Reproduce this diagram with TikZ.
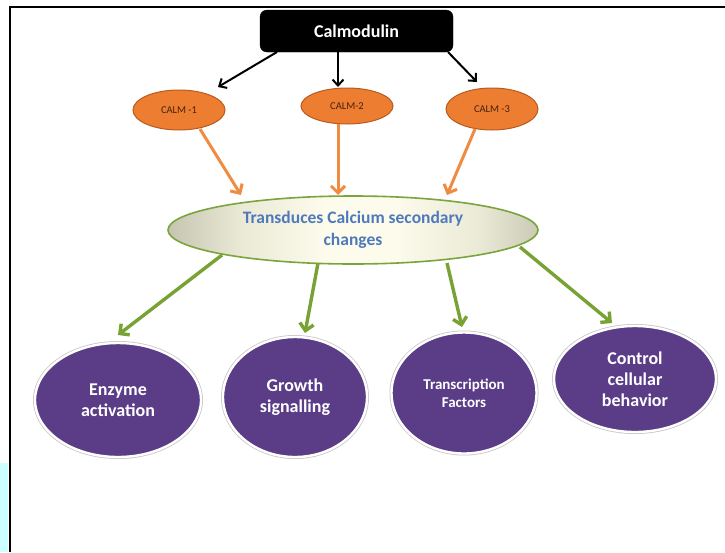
\documentclass[tikz,border=0pt]{standalone}
\usepackage{fontspec}
\setmainfont{Carlito}
\usetikzlibrary{arrows.meta,shapes.geometric,calc}

\definecolor{calmfill}{RGB}{237,125,49}
\definecolor{calmline}{RGB}{185,90,30}
\definecolor{calmtext}{RGB}{70,35,12}
\definecolor{orangearrow}{RGB}{240,140,65}
\definecolor{greenarrow}{RGB}{120,162,52}
\definecolor{lensedge}{RGB}{122,165,60}
\definecolor{lensdark}{RGB}{66,66,56}
\definecolor{lensgrey}{RGB}{112,112,98}
\definecolor{lensmid}{RGB}{182,182,162}
\definecolor{lenspale}{RGB}{235,234,214}
\definecolor{lenslight}{RGB}{252,251,236}
\definecolor{lenstext}{RGB}{78,122,188}
\definecolor{disc}{RGB}{91,61,135}
\definecolor{sidebar}{RGB}{204,255,255}

% grey edges fading to a cream centre across the lens
\pgfdeclarehorizontalshading{lensbar}{100bp}{color(0bp)=(lensdark); color(9bp)=(lensgrey); color(21bp)=(lensmid); color(35bp)=(lenspale); color(46bp)=(lenslight); color(56bp)=(lenslight); color(67bp)=(lenspale); color(80bp)=(lensmid); color(91bp)=(lensgrey); color(100bp)=(lensdark)}

\tikzset{
  calbox/.style={rectangle, rounded corners=7pt, fill=black, draw=black,
    text=white, font=\bfseries\fontsize{18}{21}\selectfont,
    minimum width=193pt, minimum height=42pt, inner sep=0pt},
  calm/.style={ellipse, fill=calmfill, draw=calmline, line width=1pt,
    text=calmtext, font=\fontsize{10.5}{12}\selectfont,
    minimum width=92pt, inner sep=0pt},
  lens/.style={ellipse, shading=lensbar, draw=lensedge, line width=1.6pt,
    text=lenstext, align=center, font=\bfseries\fontsize{17.5}{22}\selectfont,
    minimum width=370pt, minimum height=68pt, inner sep=0pt},
  outcome/.style={ellipse, fill=disc, draw=white, line width=2.4pt,
    preaction={draw=black!22, line width=4pt},
    text=white, align=center, font=\bfseries\fontsize{18}{21}\selectfont,
    inner sep=0pt},
  blkarrow/.style={draw=black, line width=2pt,
    -{Straight Barb[length=6pt,width=11pt]}},
  orarrow/.style={draw=orangearrow, line width=3pt,
    -{Straight Barb[length=7pt,width=14pt]}},
  grarrow/.style={draw=greenarrow, line width=3.4pt,
    -{Straight Barb[length=7pt,width=14pt]}},
}

\begin{document}
\begin{tikzpicture}[x=1pt,y=-1pt]
  \useasboundingbox (0,0) rectangle (725,552);
  \fill[white] (0,0) rectangle (725,552);

  % page frame and side strip
  \fill[sidebar] (0,463) rectangle (8,552);
  \draw[line width=2.2pt] (10,552) -- (10,7) -- (725,7);

  % nodes
  \node[calbox] (cam) at (356.5,31) {Calmodulin};

  \node[calm, minimum height=40pt] (c1) at (179,110) {CALM -1};
  \node[calm, minimum height=36pt] (c2) at (347,106) {CALM-2};
  \node[calm, minimum height=42pt] (c3) at (492,109) {CALM -3};

  \node[lens] (T) at (353,230) {Transduces Calcium secondary\\changes};

  \node[outcome, minimum width=166pt, minimum height=114pt] (e1) at (118,400) {Enzyme\\activation};
  \node[outcome, minimum width=144pt, minimum height=120pt] (g1) at (295,397) {Growth\\signalling};
  \node[outcome, minimum width=145pt, minimum height=121pt,
        font=\bfseries\fontsize{15}{18}\selectfont] (tf) at (464,393) {Transcription\\Factors};
  \node[outcome, minimum width=162pt, minimum height=106pt] (cc) at (635,379) {Control\\cellular\\behavior};

  % Calmodulin to its three genes
  \draw[blkarrow] ($(cam)+(-79.5,21)$) -- ($(c1)+(39,-23)$);
  \draw[blkarrow] ($(cam)+(-18.5,21)$) -- ($(c2)+(-9,-19)$);
  \draw[blkarrow] ($(cam)+(91.5,21)$) -- ($(c3)+(-15,-27)$);

  % genes to the transduction step
  \draw[orarrow] ($(c1)+(21,19)$) -- ($(T)+(-112,-35)$);
  \draw[orarrow] ($(c2)+(-9,18)$) -- ($(T)+(-15,-35)$);
  \draw[orarrow] ($(c3)+(-17,20)$) -- ($(T)+(94,-35)$);

  % transduction to the outcomes
  \draw[grarrow] ($(T)+(-131,25)$) -- ($(e1)+(0,-65)$);
  \draw[grarrow] ($(T)+(-35,33)$) -- ($(g1)+(10,-64)$);
  \draw[grarrow] ($(T)+(94,33)$) -- ($(tf)+(-2,-66)$);
  \draw[grarrow] ($(T)+(167,17)$) -- ($(cc)+(-23,-56)$);
\end{tikzpicture}
\end{document}
